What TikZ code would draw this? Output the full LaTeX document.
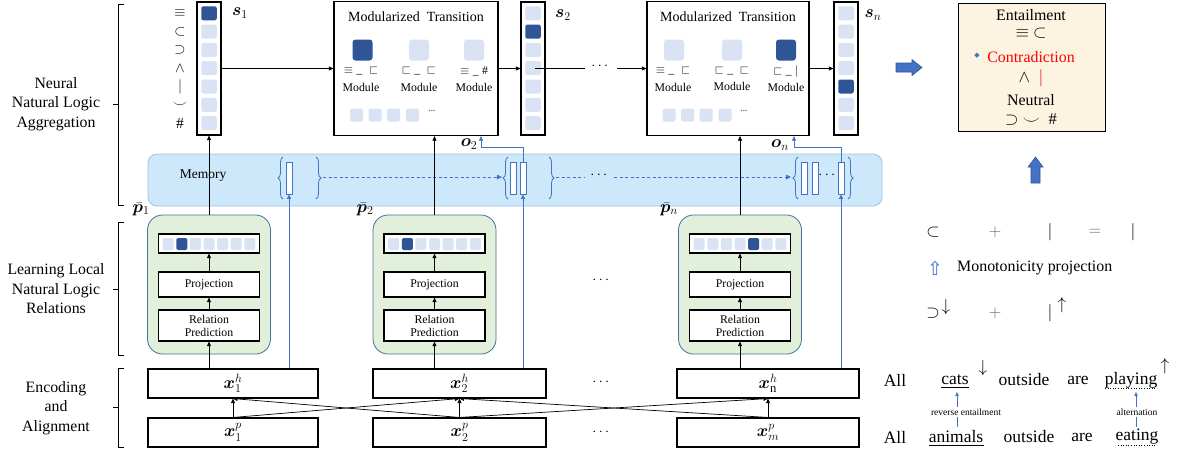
\documentclass[tikz,border=0pt]{standalone}
\usepackage{fontspec}
\setmainfont{Liberation Serif}
\newfontfamily\djv{DejaVu Sans}
\usepackage{amsmath,amssymb,bm}
\usetikzlibrary{arrows.meta,decorations.pathreplacing}
\definecolor{dkb}{HTML}{2F5597}
\definecolor{ltc}{HTML}{DAE3F3}
\definecolor{memf}{HTML}{CCE8FA}
\definecolor{meme}{HTML}{9DC3E6}
\definecolor{blu}{HTML}{4472C4}
\definecolor{grf}{HTML}{E2EFDA}
\definecolor{gre}{HTML}{41719C}
\definecolor{panf}{HTML}{FCF4E1}
\newcommand\relcol[3]{%
  \node[colbox] (#1) at (#2,68.5) {};
  \foreach \i in {1,...,7}{%
    \pgfmathsetmacro\yy{13.3+18.3*(\i-1)}%
    \ifnum\i=#3\relax \node[cell,fill=dkb] at (#2,\yy) {};%
    \else \node[cell] at (#2,\yy) {};\fi}%
}
\newcommand\pgroup[3]{%
  \node[gbox] (#1) at (#2,284.5) {};
  \node[vbar] (#1v) at (#2,243.5) {};
  \foreach \i in {1,...,7}{%
    \pgfmathsetmacro\xx{#2+13.6*(\i-4)}%
    \ifnum\i=#3\relax \node[scell,fill=dkb] at (\xx,244) {};%
    \else \node[scell] at (\xx,244) {};\fi}%
  \node[pbox, minimum height=25pt] (#1p) at (#2,284.5) {Projection};
  \node[pbox, minimum height=31pt] (#1r) at (#2,325.5) {Relation\\Prediction};
  \draw[arr] (#1r.north) -- (#1p.south);
  \draw[arr] (#1p.north) -- (#1v.south);
}
\begin{document}
\begin{tikzpicture}[x=1pt,y=-1pt,
  arr/.style={-{Triangle[length=4.5pt,width=4pt]}, line width=0.7pt},
  cell/.style={rectangle, rounded corners=2pt, minimum width=15.5pt, minimum height=14pt, inner sep=0pt, fill=ltc},
  scell/.style={rectangle, rounded corners=1.5pt, minimum width=11pt, minimum height=12pt, inner sep=0pt, fill=ltc},
  bigc/.style={rectangle, rounded corners=3pt, minimum width=20pt, minimum height=21pt, inner sep=0pt, fill=ltc},
  colbox/.style={draw, line width=1.2pt, fill=white, minimum width=24pt, minimum height=133pt, inner sep=0pt},
  tbox/.style={draw, line width=1.2pt, fill=white, minimum height=134pt, inner sep=0pt},
  gbox/.style={draw=gre, line width=0.8pt, fill=grf, rounded corners=15pt, minimum width=123pt, minimum height=139pt, inner sep=0pt},
  vbar/.style={draw, line width=1.2pt, fill=white, minimum width=101pt, minimum height=19pt, inner sep=0pt},
  pbox/.style={draw, line width=1.2pt, fill=white, minimum width=101pt, inner sep=0pt, align=center, font=\fontsize{11.8}{13}\selectfont},
  ebox/.style={draw, line width=1.1pt, fill=white, minimum height=29pt, inner sep=0pt, font=\fontsize{18}{18}\selectfont},
  mrect/.style={draw=blu, line width=0.8pt, fill=white, minimum width=6pt, minimum height=32pt, inner sep=0pt},
  bl/.style={draw=blu, line width=0.7pt},
  brc/.style={draw=blu, line width=0.8pt, decorate, decoration={brace, amplitude=5pt}},
  lab/.style={align=center, font=\fontsize{15.8}{19.5}\selectfont},
  modl/.style={font=\fontsize{11.8}{12}\selectfont, inner sep=0pt},
  mth/.style={font=\fontsize{16.5}{16.5}\selectfont, inner sep=0pt},
  sent/.style={font=\fontsize{17.5}{17.5}\selectfont, inner sep=0pt}]
\useasboundingbox (0,0) rectangle (1182,456);
% left labels and brackets
\node[lab] (l1) at (56,104) {Neural\\Natural Logic\\Aggregation};
\node[lab] (l2) at (56,289) {Learning Local\\Natural Logic\\Relations};
\node[lab] (l3) at (56,408) {Encoding\\and\\Alignment};
\draw[line width=0.8pt] (124,4) -- (118,4) -- (118,205) -- (124,205) (118,104) -- (113,104);
\draw[line width=0.8pt] (124,222) -- (118,222) -- (118,355) -- (124,355) (118,289) -- (113,289);
\draw[line width=0.8pt] (124,368) -- (118,368) -- (118,447) -- (124,447) (118,407) -- (113,407);
% memory band
\node[draw=meme, line width=0.8pt, fill=memf, rounded corners=9pt, minimum width=734pt, minimum height=52pt, inner sep=0pt] (mem) at (515,180) {};
\node[font=\fontsize{13.5}{13.5}\selectfont] (memt) at (203,176) {Memory};
\node[mrect] (m1) at (289,178) {};
\node[mrect] (m2a) at (513,178) {};
\node[mrect] (m2b) at (523,178) {};
\node[mrect] (m3a) at (804,178) {};
\node[mrect] (m3b) at (815,178) {};
\node[mrect] (m3c) at (841,178) {};
\node[font=\fontsize{14}{14}\selectfont\bfseries] (md3) at (828,175) {$\cdots$};
\draw[brc] (283,199) -- (283,157);
\draw[brc] (316,157) -- (316,199);
\draw[brc] (508,199) -- (508,157);
\draw[brc] (549,157) -- (549,199);
\draw[brc] (798,199) -- (798,157);
\draw[brc] (848,157) -- (848,199);
\coordinate (g1r) at (323,177);
\coordinate (g2l) at (502,177);
\coordinate (g2r) at (556,177);
\coordinate (md1) at (585,177);
\coordinate (md2) at (614,177);
\coordinate (g3l) at (791,177);
\draw[blu, line width=0.8pt, dash pattern=on 3pt off 2.5pt, -{Triangle[length=5pt,width=4.5pt]}] (g1r) -- (g2l);
\draw[blu, line width=0.8pt, dash pattern=on 3pt off 2.5pt] (g2r) -- (md1);
\node[font=\fontsize{14}{14}\selectfont\bfseries] (mdots) at (600,175) {$\cdots$};
\draw[blu, line width=0.8pt, dash pattern=on 3pt off 2.5pt, -{Triangle[length=5pt,width=4.5pt]}] (md2) -- (g3l);
% state columns
\relcol{s1}{209}{1}
\relcol{s2}{533}{2}
\relcol{sn}{846}{5}
\node[mth] (s1l) at (240,13) {$\bm{s}_1$};
\node[mth] (s2l) at (563,15) {$\bm{s}_2$};
\node[mth] (snl) at (873,15) {$\bm{s}_n$};
\foreach \s/\y in {\equiv/13.3,\subset/31.6,\supset/49.9,\wedge/68.2,|/86.5,\smile/104.8,\#/123.1}
  \node[font=\fontsize{15.5}{15.5}\selectfont] at (180,\y) {$\s$};
% transition boxes
\node[tbox, minimum width=164pt] (t1) at (416,68.5) {};
\node[font=\fontsize{14}{14}\selectfont] (t1t) at (416,17) {Modularized\hspace{7pt}Transition};
\node[bigc, fill=dkb] (t1a) at (362.5,50) {};
\node[bigc] (t1b) at (419,50) {};
\node[bigc] (t1c) at (474,50) {};
\node[modl] at (361,71) {$\equiv\_\;\sqsubset$};
\node[modl] at (419,71) {$\sqsubset\_\;\sqsubset$};
\node[modl] at (474,71) {$\equiv\_\;\#$};
\node[modl] at (361,87) {Module};
\node[modl] at (419,87) {Module};
\node[modl] at (474,87) {Module};
\foreach \x in {356.5,375,393.5,412.5} \node[scell, minimum width=13pt, minimum height=13pt] at (\x,115) {};
\node[font=\fontsize{9}{9}\selectfont] at (432,111) {...};
\node[tbox, minimum width=162pt] (tn) at (728,68.5) {};
\node[font=\fontsize{14}{14}\selectfont] (tnt) at (728,17) {Modularized\hspace{7pt}Transition};
\node[bigc] (tna) at (674,50) {};
\node[bigc] (tnb) at (732,50) {};
\node[bigc, fill=dkb] (tnc) at (786,50) {};
\node[modl] at (673,71) {$\equiv\_\;\sqsubset$};
\node[modl] at (732,71) {$\sqsubset\_\;\sqsubset$};
\node[modl] at (786,71) {$\sqsubset\_\;|$};
\node[modl] at (673,87) {Module};
\node[modl] at (732,86) {Module};
\node[modl] at (786,87) {Module};
\foreach \x in {669,687.5,706,725} \node[scell, minimum width=13pt, minimum height=13pt] at (\x,115) {};
\node[font=\fontsize{9}{9}\selectfont] at (744,111) {...};
% top connectors
\draw[arr] (s1.east) -- (t1.west);
\draw[arr] (t1.east) -- (s2.west);
\coordinate (s2c) at (535,68.5);
\coordinate (tdl) at (585,68.5);
\coordinate (tdr) at (617,68.5);
\draw[line width=0.7pt] (s2c) -- (tdl);
\node[font=\fontsize{14}{14}\selectfont\bfseries] (tdots) at (601,66.5) {$\cdots$};
\draw[arr] (tdr) -- (tn.west);
\draw[arr] (tn.east) -- (sn.west);
% green groups
\pgroup{g1}{209}{2}
\pgroup{g2}{434.5}{2}
\pgroup{gn}{740}{5}
\node[mth] (p1l) at (141,209) {$\bar{\bm{p}}_1$};
\node[mth] (p2l) at (365,209) {$\bar{\bm{p}}_2$};
\node[mth] (pnl) at (669,209) {$\bar{\bm{p}}_n$};
\node[font=\fontsize{14}{14}\selectfont\bfseries] (gdots) at (602,280) {$\cdots$};
\draw[arr] (g1.north) -- (s1.south);
\draw[arr] (g2.north) -- (g2.north |- t1.south);
\draw[arr] (gn.north) -- (gn.north |- tn.south);
\node[mth] (o2l) at (469,144) {$\bm{o}_2$};
\node[mth] (onl) at (780,145) {$\bm{o}_n$};
% encoding boxes
\node[ebox, minimum width=170pt] (h1) at (233,383.5) {$\bm{x}^{h}_{1}$};
\node[ebox, minimum width=173pt] (h2) at (459.5,383.5) {$\bm{x}^{h}_{2}$};
\node[ebox, minimum width=182pt] (hn) at (768,383.5) {$\bm{x}^{h}_{\mathrm{n}}$};
\node[ebox, minimum width=170pt] (xp1) at (233,432.5) {$\bm{x}^{p}_{1}$};
\node[ebox, minimum width=173pt] (xp2) at (459.5,432.5) {$\bm{x}^{p}_{2}$};
\node[ebox, minimum width=182pt] (xpm) at (768,432.5) {$\bm{x}^{p}_{m}$};
\node[font=\fontsize{14}{14}\selectfont\bfseries] (hdots) at (602,382) {$\cdots$};
\node[font=\fontsize{14}{14}\selectfont\bfseries] (pdots) at (602,432) {$\cdots$};
\draw[arr] (xp1.north) -- (h1.south);
\draw[arr] (xp1.north) -- (h2.south);
\draw[arr] (xp2.north) -- (h1.south);
\draw[arr] (xp2.north) -- (h2.south);
\draw[arr] (xp2.north) -- (hn.south);
\draw[arr] (xpm.north) -- (h2.south);
\draw[arr] (xpm.north) -- (hn.south);
\draw[arr] (g1r.south |- h1.north) -- (g1r.south);
\draw[arr] (g2r.south |- h2.north) -- (g2r.south);
\draw[arr] (gnr.south |- hn.north) -- (gnr.south);
% blue links
\draw[bl, arr] (m1.south |- h1.north) -- (m1.south);
\draw[bl, arr] (m2b.south |- h2.north) -- (m2b.south);
\draw[bl, arr] (m3c.south |- hn.north) -- (m3c.south);
\coordinate (o2c) at (481,147);
\coordinate (onc) at (794,147);
\draw[bl, arr] (m2b.north) |- (o2c) -- (o2c |- t1.south);
\draw[bl, arr] (m3c.north) |- (onc) -- (onc |- tn.south);
% right panel
\draw[draw=dkb, fill=blu, line width=0.6pt] (896,63) -- (912,63) -- (912,59.5) -- (922,67.5) -- (912,75.5) -- (912,72) -- (896,72) -- cycle;
\node[draw, line width=0.8pt, fill=panf, minimum width=147pt, minimum height=128pt, inner sep=0pt] (panel) at (1031.5,67) {};
\node[font=\fontsize{15.9}{15.9}\selectfont] (ent) at (1031,15) {Entailment};
\node[mth] (ents) at (1031,33) {$\equiv\ \subset$};
\node[font=\fontsize{15.9}{15.9}\selectfont, text=red] (con) at (1031,57) {Contradiction};
\node[text=blu, font=\djv\fontsize{7}{7}\selectfont] (bul) at (977,56) {◆};
\node[mth] (cons) at (1031,78) {$\wedge\ \ \textcolor{red}{|}$};
\node[font=\fontsize{15.9}{15.9}\selectfont] (neu) at (1031,100) {Neutral};
\node[mth] (neus) at (1031,119) {$\supset\ \smile\ \#$};
\draw[draw=dkb, fill=blu, line width=0.6pt] (1031,183) -- (1031,167) -- (1028,167) -- (1035.5,157) -- (1043,167) -- (1040,167) -- (1040,183) -- cycle;
% composition example
\node[mth] (c1) at (933,232) {$\subset$};
\node[mth, text=black!60] (c2) at (995,232) {$+$};
\node[mth] (c3) at (1050,232) {$|$};
\node[mth, text=black!60] (c4) at (1095,232) {$=$};
\node[mth] (c5) at (1133,232) {$|$};
\node[text=blu, font=\djv\fontsize{19}{19}\selectfont, inner sep=0pt] (mono) at (935,268) {⇧};
\node[anchor=west, font=\fontsize{15.9}{15.9}\selectfont, inner sep=0pt] (monot) at (957,268) {Monotonicity projection};
\node[mth] (d1) at (933,313) {$\supset$};
\node[mth] (d1a) at (946,307) {$\downarrow$};
\node[mth, text=black!60] (d2) at (995,313) {$+$};
\node[mth] (d3) at (1050,313) {$|$};
\node[mth] (d3a) at (1062,305) {$\uparrow$};
% sentences
\node[sent] (a1) at (895,380) {All};
\node[sent] (w1) at (955,380) {cats};
\node[sent] (ar1) at (983,368) {$\downarrow$};
\node[sent] (o1) at (1024,380) {outside};
\node[sent] (r1) at (1078,380) {are};
\node[sent] (pl) at (1131,380) {playing};
\node[sent] (ar2) at (1165,366) {$\uparrow$};
\node[sent] (a2) at (895,437) {All};
\node[sent] (w2) at (956,437) {animals};
\node[sent] (o2w) at (1029,437) {outside};
\node[sent] (r2) at (1082,437) {are};
\node[sent] (ea) at (1137,437) {eating};
\draw[line width=0.7pt] (941,387.5) -- (969,387.5);
\draw[line width=0.7pt] (929,445) -- (984,445);
\draw[line width=0.6pt, dotted] (1105,388.5) -- (1157,388.5);
\draw[line width=0.6pt, dotted] (1118,445.5) -- (1157,445.5);
\coordinate (ra1) at (957,427);
\coordinate (ra2) at (957,392);
\coordinate (rb1) at (1136,427);
\coordinate (rb2) at (1136,392);
\draw[bl, -{Triangle[length=4pt,width=3.5pt]}] (ra1) -- (ra2);
\draw[bl, -{Triangle[length=4pt,width=3.5pt]}] (rb1) -- (rb2);
\node[fill=white, font=\fontsize{9.5}{9.5}\selectfont, inner sep=1.5pt] (rel1) at (966,412) {reverse entailment};
\node[fill=white, font=\fontsize{9.5}{9.5}\selectfont, inner sep=1.5pt] (rel2) at (1137,412) {alternation};
\end{tikzpicture}
\end{document}
